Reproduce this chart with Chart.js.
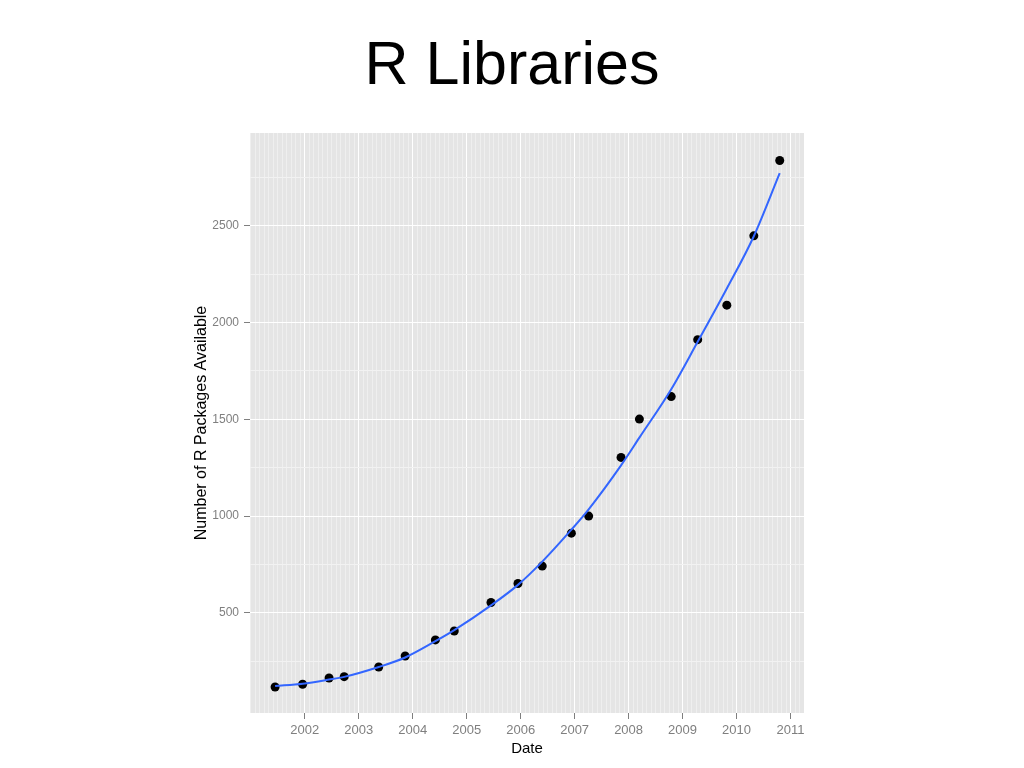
<!DOCTYPE html>
<html>
<head>
<meta charset="utf-8">
<script src="https://cdn.jsdelivr.net/npm/chart.js@4.4.1/dist/chart.umd.min.js"></script>
<style>
  html, body { margin: 0; padding: 0; background: #fff; }
  #title {
    position: absolute; left: 0; top: 27px; width: 1024px;
    text-align: center; font: 61px/72px "Liberation Sans", Arial, sans-serif; color: #000;
  }
  #wrap { position: absolute; left: 0; top: 0; width: 1024px; height: 768px; }
</style>
</head>
<body>
<div id="title">R Libraries</div>
<div id="wrap"><canvas id="chart" width="1024" height="768"></canvas></div>
<script>
// dates as decimal years
const dates = [2001.45, 2001.96, 2002.45, 2002.73, 2003.37, 2003.86, 2004.42, 2004.77, 2005.45, 2005.95,
               2006.40, 2006.94, 2007.26, 2007.86, 2008.20, 2008.79, 2009.28, 2009.82, 2010.32, 2010.80];
const packages = [118, 132, 164, 171, 221, 278, 361, 407, 554, 652,
                  742, 912, 1000, 1303, 1501, 1617, 1911, 2089, 2447, 2836];
// blue smoothed curve, read at the same dates
const smoothFit = [123, 135, 156, 170, 221, 270, 354, 411, 539, 645,
                   765, 930, 1035, 1262, 1405, 1655, 1900, 2175, 2445, 2771];

const xTickLabels = [2002, 2003, 2004, 2005, 2006, 2007, 2008, 2009, 2010, 2011];
const yTickLabels = [500, 1000, 1500, 2000, 2500];

const xMin = 2000.985, xMax = 2011.25;
const yMin = -16.5, yMax = 2978;

const tickGrey = '#7F7F7F';
const fontFamily = '"Liberation Sans", Arial, sans-serif';

// grey panel background
const panelBg = {
    id: 'panelBg',
    beforeDraw(chart) {
        const a = chart.chartArea, c = chart.ctx;
        c.save();
        c.fillStyle = '#E5E5E5';
        c.fillRect(a.left, a.top, a.right - a.left, a.bottom - a.top);
        c.restore();
    }
};

function isMajorX(v) { return xTickLabels.some(y => Math.abs(y - v) < 1e-6); }
function isMajorY(v) { return yTickLabels.indexOf(v) >= 0; }

new Chart(document.getElementById('chart'), {
    type: 'scatter',
    data: {
        datasets: [{
            label: 'fit',
            data: dates.map((d, i) => ({x: d, y: smoothFit[i]})),
            showLine: true,
            borderColor: '#3366FF',
            borderWidth: 2,
            pointRadius: 0,
            cubicInterpolationMode: 'monotone'
        }, {
            label: 'packages',
            data: dates.map((d, i) => ({x: d, y: packages[i]})),
            pointRadius: 4.5,
            pointBackgroundColor: '#000',
            pointBorderColor: '#000',
            pointBorderWidth: 0
        }]
    },
    options: {
        responsive: false,
        animation: false,
        layout: { padding: { top: 133, left: 190, right: 220, bottom: 10 } },
        plugins: { legend: { display: false }, tooltip: { enabled: false } },
        scales: {
            x: {
                type: 'linear',
                min: xMin,
                max: xMax,
                afterBuildTicks(axis) {
                    // monthly minor lines, yearly majors
                    const t = [];
                    for (let y = 2001; y <= 2011; y++) {
                        for (let m = 0; m < 12; m++) {
                            const v = m === 0 ? y : y + m / 12;
                            if (v > xMin && v < xMax) t.push({value: v});
                        }
                    }
                    axis.ticks = t;
                },
                afterFit(axis) { axis.height = 45; },
                border: { display: false },
                grid: {
                    color: ctx => isMajorX(ctx.tick.value) ? '#FFFFFF' : '#EFEFEF',
                    tickColor: ctx => isMajorX(ctx.tick.value) ? tickGrey : 'rgba(0,0,0,0)',
                    tickLength: 6
                },
                ticks: {
                    autoSkip: false,
                    maxRotation: 0,
                    padding: 4,
                    color: tickGrey,
                    font: { family: fontFamily, size: 13 },
                    callback: v => isMajorX(v) ? String(Math.round(v)) : ''
                },
                title: {
                    display: true,
                    text: 'Date',
                    color: '#000',
                    padding: { top: 1, bottom: 0 },
                    font: { family: fontFamily, size: 15 }
                }
            },
            y: {
                min: yMin,
                max: yMax,
                afterBuildTicks(axis) {
                    const t = [];
                    for (let v = 250; v < yMax; v += 250) t.push({value: v});
                    axis.ticks = t;
                },
                afterFit(axis) { axis.width = 60; },
                border: { display: false },
                grid: {
                    color: ctx => isMajorY(ctx.tick.value) ? '#FFFFFF' : '#F2F2F2',
                    tickColor: ctx => isMajorY(ctx.tick.value) ? tickGrey : 'rgba(0,0,0,0)',
                    tickLength: 6
                },
                ticks: {
                    autoSkip: false,
                    padding: 5,
                    color: tickGrey,
                    font: { family: fontFamily, size: 12 },
                    callback: v => isMajorY(v) ? String(v) : ''
                },
                title: {
                    display: true,
                    text: 'Number of R Packages Available',
                    color: '#000',
                    padding: { top: 1.5, bottom: 0 },
                    font: { family: fontFamily, size: 16 }
                }
            }
        }
    },
    plugins: [panelBg]
});
</script>
</body>
</html>
